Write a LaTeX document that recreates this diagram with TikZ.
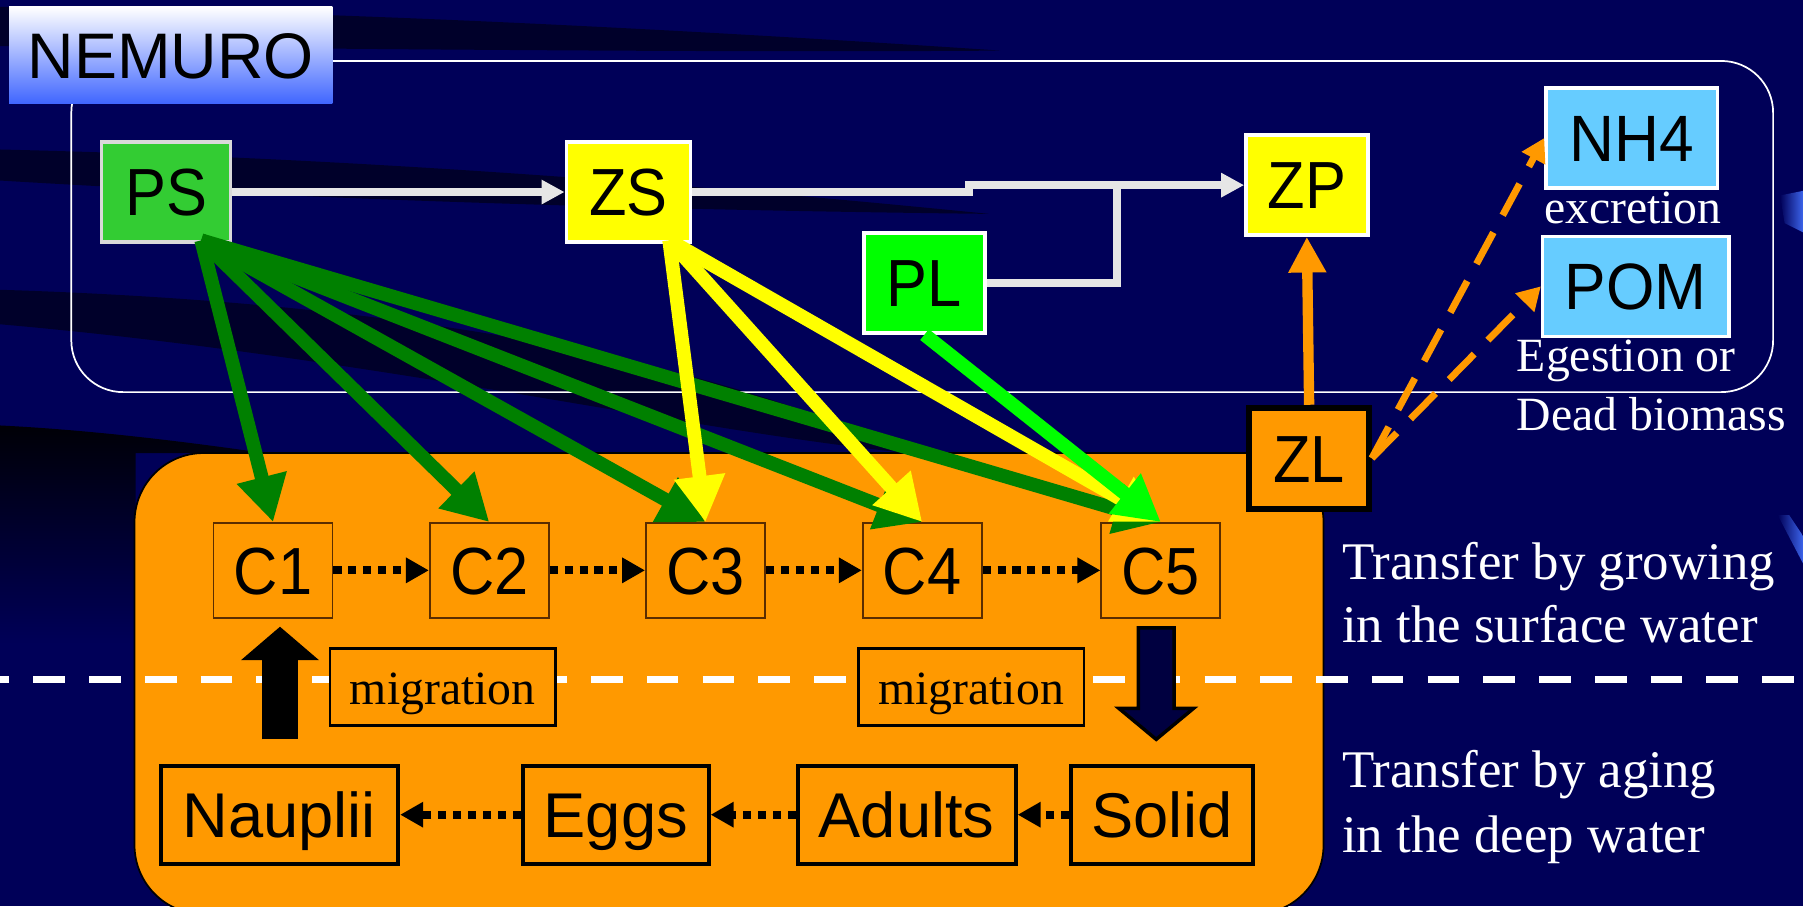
\documentclass[tikz,border=0pt]{standalone}
\usepackage{fontspec}
\setmainfont{Liberation Serif}
\newfontfamily\arialf{Liberation Sans}
\usepackage{graphicx}
\usetikzlibrary{arrows.meta,calc}
\newcommand{\sq}[1]{\scalebox{0.92}[1]{#1}}
\definecolor{bgnavy}{RGB}{0,0,88}
\definecolor{bandc}{RGB}{0,0,42}
\definecolor{nemblue}{RGB}{64,102,255}
\definecolor{psgreen}{RGB}{51,204,51}
\definecolor{psgray}{RGB}{217,217,217}
\definecolor{yel}{RGB}{255,255,0}
\definecolor{plgreen}{RGB}{0,255,0}
\definecolor{lblue}{RGB}{102,204,255}
\definecolor{orng}{RGB}{255,153,0}
\definecolor{dgreen}{RGB}{0,128,0}
\definecolor{arrgray}{RGB}{230,230,230}
\definecolor{cbrown}{RGB}{90,45,0}
\definecolor{downnavy}{RGB}{0,0,64}
\definecolor{sliver}{RGB}{60,100,235}
\begin{document}
\begin{tikzpicture}[x=1pt,y=-1pt,line join=miter,
  boxbase/.style={draw, inner sep=0pt, text depth=0pt, text=black,
    font=\arialf\fontsize{58}{60}\selectfont, text height=41.5pt,
    minimum height=87pt},
  topbox/.style={boxbase, line width=3pt},
  blbox/.style={boxbase, line width=3pt, fill=lblue, draw=white,
    font=\arialf\fontsize{57}{60}\selectfont, text height=40.8pt},
  cbox/.style={boxbase, fill=orng, draw=cbrown, line width=1.5pt,
    minimum width=103.5pt, minimum height=82.5pt},
  lifebox/.style={boxbase, fill=orng, draw=black, line width=3.5pt,
    font=\arialf\fontsize{55}{58}\selectfont, text height=39.4pt,
    minimum height=85.5pt},
  migbox/.style={draw=black, fill=orng, line width=2pt, inner sep=0pt,
    font=\fontsize{41.5}{44}\selectfont, text height=31pt, text depth=0pt,
    minimum width=196pt, minimum height=67pt},
  rtext/.style={text=white, inner sep=0pt, font=\fontsize{46}{48}\selectfont},
  stext/.style={text=white, inner sep=0pt, font=\fontsize{41.5}{44}\selectfont},
  greyarr/.style={draw=arrgray, line width=7pt, -{Triangle[length=20pt,width=20pt]}},
  feed/.style={line width=12pt, -{Triangle[length=40pt,width=42pt]}},
  dotarr/.style={draw=black, line width=7pt, dash pattern=on 7pt off 6pt,
    -{Triangle[length=20pt,width=21pt]}},
  odash/.style={draw=orng, line width=6pt, dash pattern=on 31pt off 17pt,
    -{Triangle[length=20pt,width=22pt]}}
]
\useasboundingbox (0,0) rectangle (1568,788);
\fill[bgnavy] (0,0) rectangle (1568,788);

% background swooshes
\fill[bandc] (0,6) .. controls (300,10) and (600,26) .. (870,44)
  .. controls (600,46) and (300,42) .. (0,40) -- cycle;
\fill[bandc] (0,130) .. controls (250,136) and (520,152) .. (860,186)
  .. controls (520,182) and (250,172) .. (0,157) -- cycle;
\fill[bandc] (0,252) .. controls (320,262) and (600,305) .. (790,394)
  .. controls (600,375) and (320,310) .. (0,282) -- cycle;
\shade[top color=black!85!bandc, bottom color=bgnavy]
  (0,370) .. controls (80,374) and (160,384) .. (230,394)
  -- (118,394) -- (118,560) -- (0,560) -- cycle;
\shade[left color=bgnavy, right color=sliver]
  (1548,170) -- (1568,166) -- (1568,202) -- (1552,194) -- cycle;
\shade[left color=bgnavy, right color=sliver]
  (1546,448) -- (1556,448) -- (1568,466) -- (1568,490) -- cycle;

% NEMURO frame
\draw[white, line width=1.5pt, rounded corners=45pt] (62,53) rectangle (1542,341);
\node[inner sep=0pt, minimum width=281pt, minimum height=84pt,
  top color=white, bottom color=nemblue, text=black,
  font=\arialf\fontsize{56}{58}\selectfont, text height=40pt, text depth=0pt]
  (nemuro) at (148.5,48) {NEMURO};

% orange life-cycle region
\filldraw[fill=orng, draw=black, line width=1.5pt, rounded corners=60pt]
  (117,394) rectangle (1151,795);

% dashed water-layer line
\coordinate (dl) at (0,591);
\coordinate (dr) at (1568,591);
\draw[white, line width=6pt, dash pattern=on 27.5pt off 21pt, dash phase=19.5pt] (dl) -- (dr);

% top nodes
\node[topbox, fill=psgreen, draw=psgray, minimum width=112pt] (PS) at (144.5,167) {\sq{PS}};
\node[topbox, fill=yel, draw=white, minimum width=108pt] (ZS) at (546.5,167) {\sq{ZS}};
\node[topbox, fill=yel, draw=white, minimum width=106pt] (ZP) at (1136.5,161) {\sq{ZP}};
\node[topbox, fill=plgreen, draw=white, minimum width=105pt] (PL) at (804,246) {\sq{PL}};
\node[blbox, minimum width=149pt] (NH4) at (1419,120) {\scalebox{0.95}[1]{NH4}};
\node[blbox, minimum width=162pt] (POM) at (1422.5,249) {\scalebox{0.95}[1]{POM}};
\node[boxbase, fill=orng, draw=black, line width=5pt, minimum width=104pt,
  minimum height=88pt] (ZL) at (1138.5,398.5) {\sq{ZL}};

% stage nodes
\node[cbox] (C1) at (237.5,496) {\sq{C1}};
\node[cbox] (C2) at (425.5,496) {\sq{C2}};
\node[cbox] (C3) at (613.5,496) {\sq{C3}};
\node[cbox] (C4) at (802,496) {\sq{C4}};
\node[cbox] (C5) at (1009.5,496) {\sq{C5}};
\node[migbox] (mig1) at (385,597.5) {migration};
\node[migbox] (mig2) at (844.5,597.5) {migration};
\node[lifebox, minimum width=206.5pt] (Nau) at (243,708.5) {Nauplii};
\node[lifebox, minimum width=161.5pt] (Egg) at (535.5,708.5) {Eggs};
\node[lifebox, minimum width=189.5pt] (Adu) at (788.5,708.5) {Adults};
\node[lifebox, minimum width=157.5pt] (Sol) at (1010.5,708.5) {Solid};

% grey flows
\coordinate (j1) at (843,167);
\coordinate (j2) at (843,161);
\coordinate (j3) at (971,158);
\coordinate (j4) at (971,246);
\draw[greyarr] (PS.east) -- (ZS.west);
\draw[greyarr] (ZS.east) -- (j1) -- (j2) -- (ZP.west);
\draw[draw=arrgray, line width=7pt] (PL.east) -- (j4) -- (j3);

% ZL flows
\draw[draw=orng, line width=9pt, -{Triangle[length=31pt,width=31pt]}] (ZL.north) -- (ZP.south);
\draw[odash] (ZL.east) -- (NH4.west);
\draw[odash] (ZL.east) -- (POM.west);

% feeding arrows
\coordinate (psout) at (175,209);
\coordinate (zsout) at (582,209);
\draw[feed, dgreen] (psout) -- (C1.north);
\draw[feed, dgreen] (psout) -- (C2.north);
\draw[feed, dgreen] (psout) -- (C3.north);
\draw[feed, dgreen] (psout) -- (C4.north);
\draw[feed, dgreen] (psout) -- (C5.north);
\draw[feed, yel] (zsout) -- (C3.north);
\draw[feed, yel] (zsout) -- (C4.north);
\draw[feed, yel] (zsout) -- (C5.north);
\draw[feed, plgreen] (PL.south) -- (C5.north);

% growth / aging
\draw[dotarr] (C1.east) -- (C2.west);
\draw[dotarr] (C2.east) -- (C3.west);
\draw[dotarr] (C3.east) -- (C4.west);
\draw[dotarr] (C4.east) -- (C5.west);
\draw[dotarr] (Sol.west) -- (Adu.east);
\draw[dotarr] (Adu.west) -- (Egg.east);
\draw[dotarr] (Egg.west) -- (Nau.east);

% migration arrows
\coordinate (upfoot) at (243.5,643);
\coordinate (uptip) at (243.5,545);
\draw[black, line width=31pt, -{Triangle[length=29pt,width=66pt]}] (upfoot) -- (uptip);
\filldraw[fill=downnavy, draw=black, line width=3pt]
  (990,546) -- (1021,546) -- (1021,616) -- (1038,616) -- (1005.5,643)
  -- (973,616) -- (990,616) -- cycle;

% labels
\node[stext, anchor=base] (exc) at (1420,194) {excretion};
\node[stext, anchor=base west] (ege) at (1319,323) {Egestion or};
\node[stext, anchor=base west] (dead) at (1319,374) {Dead biomass};
\node[rtext, anchor=base west] (t1) at (1167,504) {Transfer by growing};
\node[rtext, anchor=base west] (t2) at (1167,559) {in the surface water};
\node[rtext, anchor=base west] (t3) at (1167,685) {Transfer by aging};
\node[rtext, anchor=base west] (t4) at (1167,741) {in the deep water};
\end{tikzpicture}
\end{document}
